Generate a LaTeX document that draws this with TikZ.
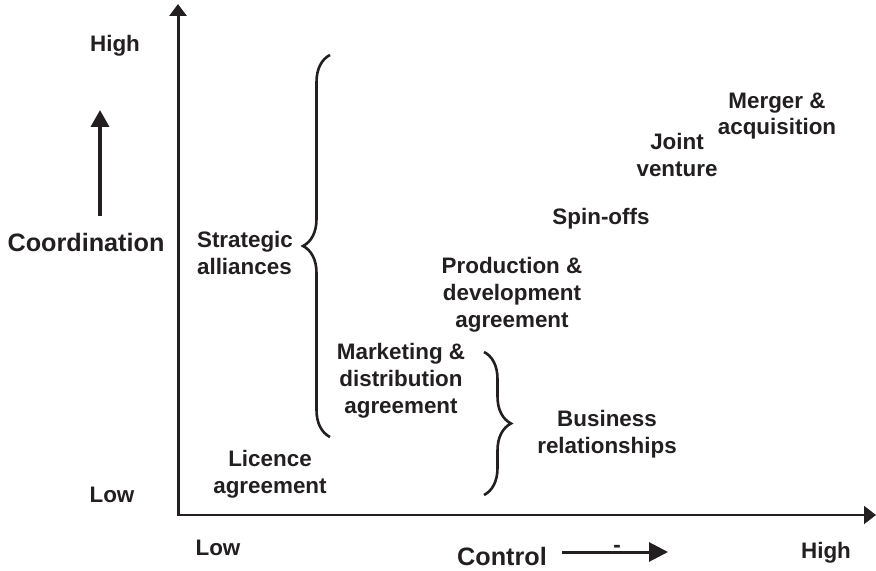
\documentclass[tikz,border=0pt]{standalone}
\usepackage{fontspec}
\setmainfont{Liberation Sans}
\usetikzlibrary{arrows.meta,decorations.pathreplacing}
\definecolor{encre}{HTML}{231F20}

\begin{document}
\begin{tikzpicture}[x=0.5pt,y=-0.5pt,color=encre]
\tikzset{lbl/.style={font=\fontsize{11.2}{13.4}\selectfont\bfseries, align=center, inner sep=0pt},
  axlbl/.style={font=\fontsize{12.6}{15}\selectfont\bfseries, inner sep=0pt},
  accol/.style={decorate, decoration={brace, amplitude=13.5pt}, line width=1.3pt}}
\useasboundingbox (0,0) rectangle (876,571);
% axes
\coordinate (O) at (178,515);
\coordinate (Ytop) at (178,4);
\coordinate (Xend) at (876,515);
\draw[line width=1.5pt, -{Triangle[width=8.5pt,length=6pt]}] (178,516) -- (Ytop);
\draw[line width=1pt, -{Triangle[width=9pt,length=6pt]}] (O) -- (Xend);
\node[lbl] (yhigh) at (115,46) {High};
\node[lbl] (ylow) at (112,495) {Low};
\node[lbl] (xlow) at (218,548) {Low};
\node[lbl] (xhigh) at (826,553) {High};
% axis names with their arrows
\node[axlbl] (coord) at (86,242) {Coordination};
\coordinate (C1) at (100,216);
\coordinate (C2) at (100,110);
\draw[line width=1.75pt, -{Triangle[width=9pt,length=8.5pt]}] (C1) -- (C2);
\node[axlbl] (ctrl) at (502,556) {Control};
\coordinate (K1) at (562,552);
\coordinate (K2) at (668,552);
\draw[line width=1.5pt, -{Triangle[width=9.5pt,length=9.5pt]}] (K1) -- (K2);
\node[lbl] (tiret) at (617,549) {-};
% forms of cooperation
\node[lbl] (merger) at (777,116) {Merger \&\\acquisition};
\node[lbl] (joint) at (677,155) {Joint\\venture};
\node[lbl] (spin) at (601,219) {Spin-offs};
\node[lbl] (prod) at (512,295) {Production \&\\development\\agreement};
\node[lbl] (mark) at (401,381) {Marketing \&\\distribution\\agreement};
\node[lbl] (lic) at (270,474) {Licence\\agreement};
% groupings
\coordinate (S1) at (330,437);
\coordinate (S2) at (330,55);
\draw[accol] (S1) -- (S2);
\node[lbl, align=left] (strat) at (245,253) {Strategic\\alliances};
\coordinate (B1) at (484,352);
\coordinate (B2) at (484,495);
\draw[accol] (B1) -- (B2);
\node[lbl] (bus) at (607,434) {Business\\relationships};
\end{tikzpicture}
\end{document}
